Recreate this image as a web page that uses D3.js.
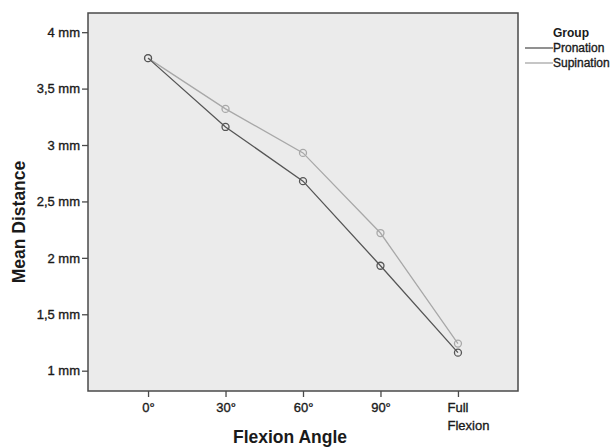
<!DOCTYPE html>
<meta charset="utf-8">
<style>
    body{ margin: 0; background: #fff; }
    text{ font-family: "Liberation Sans", Arial, sans-serif; fill: #1a1a1a; }
    .lbl{ stroke: #1a1a1a; stroke-width: 0.35px; }
</style>
<svg width="616" height="448"></svg>
<script src="https://d3js.org/d3.v7.min.js"></script>
<script>

var angles = ["0°", "30°", "60°", "90°", "Full Flexion"];
var pronation = [3.77, 3.16, 2.68, 1.93, 1.16];
var supination = [3.77, 3.32, 2.93, 2.22, 1.24];
var yTicks = [1, 1.5, 2, 2.5, 3, 3.5, 4];
var groups = ["Pronation", "Supination"];
var groupColors = ["#555555", "#a8a8a8"];

var svg = d3.select("svg"),
    plotLeft = 88, plotRight = 518, plotTop = 13, plotBottom = 391;

var x = d3.scalePoint()
    .domain(angles)
    .range([plotLeft, plotRight])
    .padding(0.775);

var y = d3.scaleLinear()
    .domain([0.82, 4.17])
    .range([plotBottom, plotTop]);

// plot area
svg.append("rect")
    .attr("x", plotLeft)
    .attr("y", plotTop)
    .attr("width", plotRight - plotLeft)
    .attr("height", plotBottom - plotTop)
    .attr("fill", "#ebebeb")
    .attr("stroke", "#4a4a4a")
    .attr("stroke-width", 1.5);

// y axis
var gy = svg.append("g")
    .attr("transform", "translate(" + plotLeft + ",0)")
    .call(d3.axisLeft(y)
        .tickValues(yTicks)
        .tickSize(6)
        .tickPadding(2)
        .tickFormat(function(d) { return String(d).replace(".", ",") + " mm"; }));
gy.select(".domain").remove();
gy.selectAll("line").attr("stroke", "#4a4a4a").attr("stroke-width", 1.3);
gy.selectAll("text").attr("class", "lbl").attr("font-size", 13).attr("fill", "#1a1a1a").attr("font-family", null);

// x axis
var gx = svg.append("g")
    .attr("transform", "translate(0," + plotBottom + ")")
    .call(d3.axisBottom(x).tickSize(6).tickPadding(6));
gx.select(".domain").remove();
gx.selectAll("line").attr("stroke", "#4a4a4a").attr("stroke-width", 1.3);
gx.selectAll("text")
    .attr("class", "lbl")
    .attr("font-size", 13)
    .attr("fill", "#1a1a1a")
    .attr("font-family", null)
    .each(function(d) {
        var words = d.split(" ");
        if (words.length > 1) {
            var t = d3.select(this).text(null).attr("text-anchor", "start");
            words.forEach(function(w, i) {
                t.append("tspan").attr("x", -11).attr("dy", i ? "1.4em" : "0.71em").text(w);
            });
        }
    });

// axis titles
svg.append("text")
    .attr("x", 290)
    .attr("y", 443)
    .attr("text-anchor", "middle")
    .attr("font-size", 17.5)
    .attr("font-weight", "bold")
    .text("Flexion Angle");

svg.append("text")
    .attr("transform", "translate(25,222) rotate(-90)")
    .attr("text-anchor", "middle")
    .attr("font-size", 17.5)
    .attr("font-weight", "bold")
    .text("Mean Distance");

// lines and markers
var series = [pronation, supination];
var line = d3.line()
    .x(function(d, i) { return x(angles[i]); })
    .y(function(d) { return y(d); });

[1, 0].forEach(function(k) {
    svg.append("path")
        .datum(series[k])
        .attr("fill", "none")
        .attr("stroke", groupColors[k])
        .attr("stroke-width", 1.3)
        .attr("d", line);
    svg.append("g").selectAll("circle")
        .data(series[k])
        .enter().append("circle")
        .attr("cx", function(d, i) { return x(angles[i]); })
        .attr("cy", function(d) { return y(d); })
        .attr("r", 3.5)
        .attr("fill", "none")
        .attr("stroke", groupColors[k])
        .attr("stroke-width", 1.3);
});

// legend
var lg = svg.append("g").attr("transform", "translate(525,0)");
lg.append("text")
    .attr("x", 28)
    .attr("y", 37)
    .attr("font-size", 12)
    .attr("font-weight", "bold")
    .text("Group");
groups.forEach(function(name, i) {
    lg.append("line")
        .attr("x1", 0).attr("x2", 28)
        .attr("y1", 48 + i * 15).attr("y2", 48 + i * 15)
        .attr("stroke", groupColors[i])
        .attr("stroke-width", 1.3);
    lg.append("text")
        .attr("class", "lbl")
        .attr("x", 28)
        .attr("y", 52 + i * 15)
        .attr("font-size", 12)
        .text(name);
});
</script>
